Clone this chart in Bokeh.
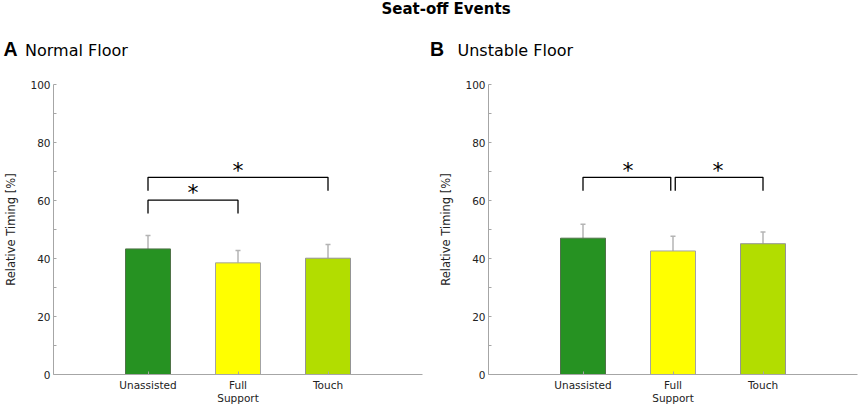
from bokeh.plotting import figure
from bokeh.models import Range1d, FixedTicker, Whisker, TeeHead, ColumnDataSource
from bokeh.layouts import column, row
from bokeh.embed import file_html
from bokeh.resources import INLINE
from bokeh.core.properties import value

# ---- data ----
conditions = ["Unassisted", "Full Support", "Touch"]
tick_labels = ["Unassisted", "Full\nSupport", "Touch"]
normal_mean = [43.3, 38.5, 40.1]
normal_sd = [4.6, 4.3, 4.7]
unstable_mean = [47.0, 42.6, 45.1]
unstable_sd = [4.8, 5.1, 4.0]
# significance brackets: (first condition, second condition, bracket height)
normal_sig = [(1, 2, 60.1), (1, 3, 68.0)]
unstable_sig = [(1, 2, 68.0), (2, 3, 68.0)]
y_ticks = [0, 20, 40, 60, 80, 100]

# ---- styles ----
bar_colors = ["#269222", "#ffff00", "#b2dd00"]
bar_lines = ["#4f7348", "#a3a3a3", "#949494"]
AXIS_COL = "#a6a6a6"
ERR_COL = "#b4b4b4"
FONT = "DejaVu Sans"
HEAD_H = 64
PLOT_H = 407 - HEAD_H


def panel(mean, sd, sig, width, mbr):
    p = figure(width=width, height=PLOT_H, x_range=Range1d(-0.05, 4.05),
               y_range=Range1d(0, 100), output_backend="svg", title=None,
               toolbar_location=None, min_border_left=53, min_border_right=mbr,
               min_border_top=84 - HEAD_H, min_border_bottom=PLOT_H - (374 - HEAD_H))
    xs = [i + 1 for i in range(len(conditions))]
    src = ColumnDataSource(dict(x=xs, top=mean,
                                upper=[m + s for m, s in zip(mean, sd)],
                                color=bar_colors, lc=bar_lines))
    p.vbar(x="x", top="top", bottom=0, width=0.5, fill_color="color",
           line_color="lc", line_width=1, source=src)
    w = Whisker(base="x", lower="top", upper="upper", source=src,
                line_color=ERR_COL, line_width=1.5,
                upper_head=TeeHead(size=5, line_color=ERR_COL, line_width=1.5),
                lower_head=None)
    p.add_layout(w)

    # significance brackets
    ends = {}
    for a, b, h in sig:
        ends[a] = ends.get(a, 0) + 1
        ends[b] = ends.get(b, 0) + 1
    first = min(a for a, _, _ in sig)
    last = max(b for _, b, _ in sig)
    bx, by, sx, sy = [], [], [], []
    for a, b, h in sig:
        x0 = a + (0.025 if ends[a] > 1 and a != first else 0)
        x1 = b - (0.025 if ends[b] > 1 and b != last else 0)
        bx.append([x0, x0, x1, x1])
        by.append([h - 4.6, h, h, h - 4.6])
        sx.append((a + b) / 2)
        sy.append(h + 2.5)
    p.multi_line(xs=bx, ys=by, line_color="black", line_width=1.3)
    p.text(x=sx, y=sy, text=["*"] * len(sx), text_font=value(FONT),
           text_font_size="22px", text_align="center",
           text_baseline="alphabetic", text_color="black")

    # axes
    p.xaxis.ticker = FixedTicker(ticks=xs)
    p.xaxis.major_label_overrides = {x: t for x, t in zip(xs, tick_labels)}
    p.xaxis.major_tick_in = 3
    p.xaxis.major_tick_out = 0
    p.xaxis.major_label_standoff = 4
    p.xaxis.major_label_text_line_height = 1.15

    p.yaxis.ticker = FixedTicker(ticks=y_ticks,
                                 minor_ticks=[t + 10 for t in y_ticks[:-1]])
    p.yaxis.major_tick_in = 3
    p.yaxis.major_tick_out = 0
    p.yaxis.minor_tick_in = 3
    p.yaxis.minor_tick_out = 0
    p.yaxis.major_label_standoff = 3
    p.yaxis.axis_label = "Relative Timing [%]"
    p.yaxis.axis_label_standoff = 9
    p.yaxis.axis_label_text_font_style = "normal"
    p.yaxis.axis_label_text_font_size = "11.5px"
    p.yaxis.axis_label_text_font = FONT
    p.yaxis.axis_label_text_color = "#222222"

    for ax in (p.xaxis, p.yaxis):
        ax.axis_line_color = AXIS_COL
        ax.major_tick_line_color = AXIS_COL
        ax.major_label_text_font = FONT
        ax.major_label_text_font_size = "10.5px"
        ax.major_label_text_color = "#222222"
    p.xaxis.minor_tick_line_color = None
    p.yaxis.minor_tick_line_color = AXIS_COL
    p.grid.visible = False
    p.outline_line_color = None
    return p


p1 = panel(normal_mean, normal_sd, normal_sig, 435, 435 - 53 - 369)
p2 = panel(unstable_mean, unstable_sd, unstable_sig, 423, 423 - 53 - 369)

# header with titles
head = figure(width=858, height=HEAD_H, x_range=Range1d(0, 858),
              y_range=Range1d(HEAD_H, 0), title=None,
              output_backend="svg", toolbar_location=None,
              x_axis_location=None, y_axis_location=None,
              min_border_left=0, min_border_right=0, min_border_top=0,
              min_border_bottom=0)
head.grid.visible = False
head.outline_line_color = None
head.text(x=[445.5], y=[8.9], text=["Seat-off Events"], text_font=value(FONT),
          text_font_style="bold", text_font_size="15px", text_align="center",
          text_baseline="middle", text_color="black")
head.text(x=[3.0, 429.5], y=[48.9, 48.9], text=["A", "B"],
          text_font=value("Liberation Sans"), text_font_style="bold",
          text_font_size="19.5px", text_align="left",
          text_baseline="middle", text_color="black")
head.text(x=[24.5, 457], y=[49.6, 49.6], text=["Normal Floor", "Unstable Floor"],
          text_font=value(FONT), text_font_size="16px", text_align="left",
          text_baseline="middle", text_color="black")

layout = column(head, row(p1, p2, spacing=0), spacing=0)
open("out.html", "w").write(file_html(layout, INLINE))
